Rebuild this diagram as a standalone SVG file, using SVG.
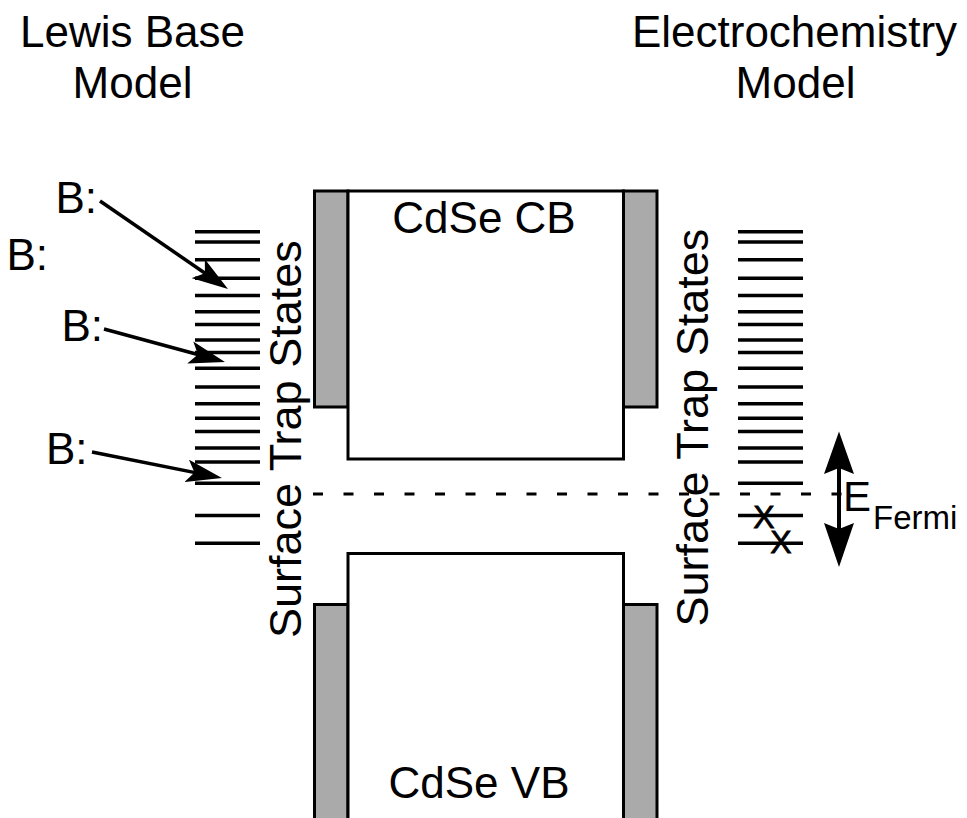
<svg xmlns="http://www.w3.org/2000/svg" width="967" height="818" viewBox="0 0 967 818">
<style>
text{font-family:"Liberation Sans",Arial,sans-serif;fill:#000}
.t44{font-size:44px}
.band{fill:#fff;stroke:#000;stroke-width:3}
.gray{fill:#aaaaaa;stroke:#000;stroke-width:3}
.lvl{stroke:#000;stroke-width:3.5}
.arr{stroke:#000;stroke-width:3.5;fill:none}
.xm{font-size:32px;stroke:#000;stroke-width:0.8}
</style>
<defs>
<marker id="ah" markerUnits="userSpaceOnUse" viewBox="0 0 36 23" markerWidth="36" markerHeight="23" refX="24" refY="11.5" orient="auto">
<path d="M0,0 L36,11.5 L0,23 L8,11.5 Z" fill="#000"/>
</marker>
<g id="levels">
<line x1="0" x2="65" y1="231.7" y2="231.7"/>
<line x1="0" x2="65" y1="242" y2="242"/>
<line x1="0" x2="65" y1="259.7" y2="259.7"/>
<line x1="0" x2="65" y1="278.3" y2="278.3"/>
<line x1="0" x2="65" y1="295.5" y2="295.5"/>
<line x1="0" x2="65" y1="311.7" y2="311.7"/>
<line x1="0" x2="65" y1="324.5" y2="324.5"/>
<line x1="0" x2="65" y1="340" y2="340"/>
<line x1="0" x2="65" y1="352.5" y2="352.5"/>
<line x1="0" x2="65" y1="368.3" y2="368.3"/>
<line x1="0" x2="65" y1="387" y2="387"/>
<line x1="0" x2="65" y1="403.7" y2="403.7"/>
<line x1="0" x2="65" y1="418.3" y2="418.3"/>
<line x1="0" x2="65" y1="431.5" y2="431.5"/>
<line x1="0" x2="65" y1="448" y2="448"/>
<line x1="0" x2="65" y1="462" y2="462"/>
<line x1="0" x2="65" y1="483.3" y2="483.3"/>
<line x1="0" x2="65" y1="515.5" y2="515.5"/>
<line x1="0" x2="65" y1="543.3" y2="543.3"/>
</g>
</defs>
<rect width="967" height="818" fill="#fff"/>

<g id="titles">
<text class="t44" x="132.5" y="46.7" text-anchor="middle">Lewis Base</text>
<text class="t44" x="132.5" y="98.3" text-anchor="middle">Model</text>
<text class="t44" x="794.5" y="46.7" text-anchor="middle">Electrochemistry</text>
<text class="t44" x="795.5" y="98.3" text-anchor="middle">Model</text>
</g>

<g id="cdse-cb">
<rect class="gray" x="314.5" y="191" width="33.5" height="216"/>
<rect class="gray" x="623.5" y="191" width="33.5" height="216"/>
<rect class="band" x="348" y="191" width="275.5" height="268"/>
<text class="t44" x="484" y="232.5" text-anchor="middle">CdSe CB</text>
</g>

<g id="cdse-vb">
<rect class="gray" x="314.5" y="604.5" width="33.5" height="230"/>
<rect class="gray" x="623.5" y="604.5" width="33.5" height="230"/>
<rect class="band" x="348" y="553.5" width="275.5" height="280"/>
<text class="t44" x="479" y="798" text-anchor="middle">CdSe VB</text>
</g>

<g id="left-traps" class="lvl">
<use href="#levels" x="195"/>
</g>
<g id="right-traps" class="lvl">
<use href="#levels" x="738"/>
</g>

<g id="left-label">
<text font-size="45" transform="translate(301,638) rotate(-90)">Surface Trap States</text>
</g>
<g id="right-label">
<text font-size="45" transform="translate(708,626.5) rotate(-90)">Surface Trap States</text>
</g>

<g id="lewis-bases">
<text class="t44" x="55.5" y="212.7">B:</text>
<text class="t44" x="6.5" y="270">B:</text>
<text class="t44" x="61.5" y="340.7">B:</text>
<text class="t44" x="46" y="464">B:</text>
</g>

<g id="occupied-marks">
<text class="xm" x="764" y="528" text-anchor="middle">X</text>
<text class="xm" x="781" y="553" text-anchor="middle">X</text>
</g>

<g id="fermi-label">
<text font-size="42" x="843" y="511">E</text>
<text font-size="33" x="873" y="528.5">Fermi</text>
</g>

<g id="connectors">
<line x1="313" y1="494" x2="846" y2="494" stroke="#000" stroke-width="3" stroke-dasharray="10 20.5"/>
<line class="arr" x1="100" y1="201" x2="218.1" y2="282.2" marker-end="url(#ah)"/>
<line class="arr" x1="104" y1="329" x2="213.4" y2="358.8" marker-end="url(#ah)"/>
<line class="arr" x1="92" y1="452" x2="210.2" y2="475.6" marker-end="url(#ah)"/>
<line x1="839" y1="466" x2="839" y2="531" stroke="#000" stroke-width="4"/>
<path d="M839,431.5 L854,474 L839,468 L824,474 Z" fill="#000"/>
<path d="M839,567 L854,523 L839,529 L824,523 Z" fill="#000"/>
</g>
</svg>
